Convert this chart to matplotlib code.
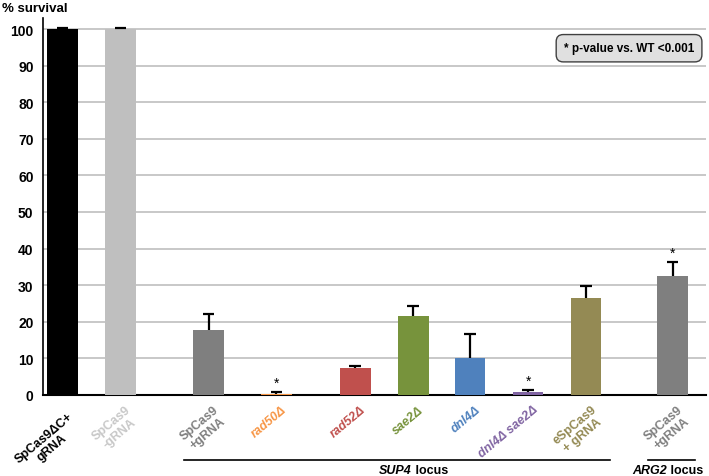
import numpy as np
import matplotlib.pyplot as plt
import matplotlib.transforms as mtransforms

plt.rcParams['font.family'] = ['Liberation Sans', 'DejaVu Sans']

# data
labels = ["SpCas9ΔC+\ngRNA", "SpCas9\n-gRNA", "SpCas9\n+gRNA", "rad50Δ", "rad52Δ",
          "sae2Δ", "dnl4Δ", "dnl4Δ sae2Δ", "eSpCas9\n+ gRNA", "SpCas9\n+gRNA"]
survival = [100, 100, 17.8, 0.3, 7.3, 21.5, 10.0, 0.7, 26.5, 32.6]
errors = [0.3, 0.2, 4.4, 0.6, 0.6, 2.7, 6.6, 0.6, 3.2, 3.8]
significant = [False, False, False, True, False, False, False, True, False, True]
italic = [False, False, False, True, True, True, True, True, False, False]

bar_colors = ["#000000", "#bfbfbf", "#7f7f7f", "#f79646", "#c0504d",
              "#77933c", "#4f81bd", "#8064a2", "#948a54", "#7f7f7f"]
text_colors = ["#000000", "#c8c8c8", "#7f7f7f", "#f79646", "#c0504d",
               "#77933c", "#4f81bd", "#8064a2", "#948a54", "#7f7f7f"]

x = np.array([0, 1, 2.52, 3.69, 5.05, 6.05, 7.03, 8.03, 9.03, 10.52])

fig = plt.figure(figsize=(7.09, 4.77), dpi=100)
ax = fig.add_axes([0.061, 0.17, 0.935, 0.79])

ax.bar(x, survival, width=0.53, color=bar_colors, zorder=3)

# upper error bars only (T shape)
tops = np.array(survival) + np.array(errors)
ax.vlines(x, survival, tops, color="black", lw=1.6, zorder=4)
ax.hlines(tops, x - 0.1, x + 0.1, color="black", lw=1.6, zorder=4)

for xi, t, s in zip(x, tops, significant):
    if s:
        ax.text(xi, t + 0.6, "*", ha="center", va="bottom", fontsize=10)

ax.set_xlim(-0.33, 11.1)
ax.set_ylim(0, 103)
ax.set_yticks(np.arange(0, 101, 10))
ax.yaxis.grid(True, color="#bfbfbf", linewidth=1.2, zorder=0)
ax.set_xticks([])
for t in ax.get_yticklabels():
    t.set_fontweight("bold")
    t.set_fontsize(10)
ax.tick_params(axis="y", length=0, pad=7)
ax.spines["right"].set_visible(False)
ax.spines["top"].set_visible(False)
ax.spines["left"].set_linewidth(1.2)
ax.spines["bottom"].set_linewidth(1.5)

ax.text(-0.062, 1.012, "% survival", transform=ax.transAxes, fontsize=9.5,
        fontweight="bold", ha="left", va="bottom")

# rotated category labels (first one sits a bit lower, as in the original)
for i, (xi, lab, c, it) in enumerate(zip(x, labels, text_colors, italic)):
    dy = -4.2 if i == 0 else -2.3
    ax.text(xi + 0.08, dy, lab, color=c, fontsize=9, fontweight="bold",
            fontstyle="italic" if it else "normal", rotation=40,
            rotation_mode="anchor", ha="right", va="top", ma="center",
            linespacing=1.1)

# locus brackets
trans = mtransforms.blended_transform_factory(ax.transData, ax.transAxes)
ax.plot([2.09, 9.45], [-0.172, -0.172], color="black", lw=1.2, transform=trans, clip_on=False)
ax.plot([10.1, 10.9], [-0.172, -0.172], color="black", lw=1.2, transform=trans, clip_on=False)
for xc, locus in [(6.07, "SUP4"), (10.48, "ARG2")]:
    ax.text(xc - 0.05, -0.198, locus, transform=trans, ha="right", va="center",
            fontsize=9, fontweight="bold", fontstyle="italic")
    ax.text(xc - 0.05, -0.198, " locus", transform=trans, ha="left", va="center",
            fontsize=9, fontweight="bold")

ax.text(0.982, 0.92, "* p-value vs. WT <0.001", transform=ax.transAxes, ha="right",
        va="center", fontsize=8.5, fontweight="bold",
        bbox=dict(boxstyle="round,pad=0.65,rounding_size=0.6", facecolor="#e0e0e0",
                  edgecolor="#404040", linewidth=1))

fig.savefig("out.png", dpi=100)
